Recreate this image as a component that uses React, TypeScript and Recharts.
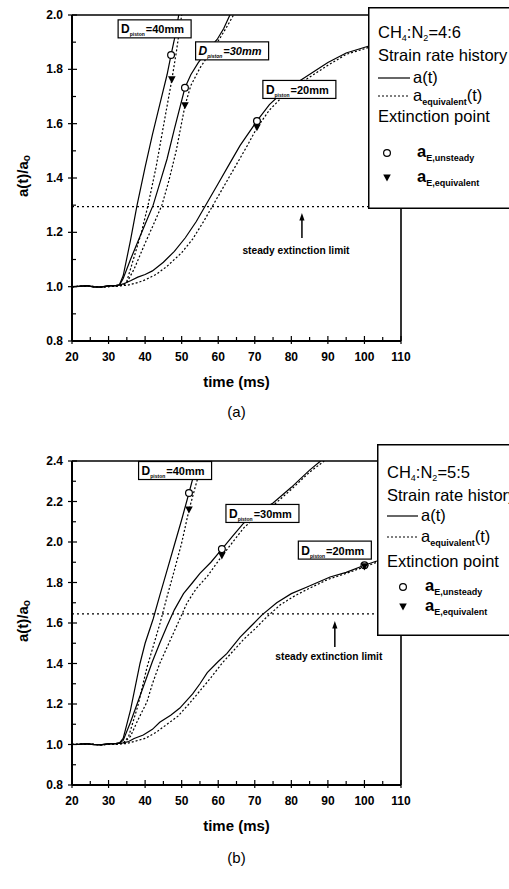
import React from 'react'
import { ComposedChart, Line, Scatter, XAxis, YAxis, ReferenceLine, ReferenceDot, Legend } from 'recharts'

type Pt = [number, number]

const FONT = '"Liberation Sans", Arial, Helvetica, sans-serif'

// every 5 ms / every 0.1 gets a tick; labels only on the major ones
const timeTicks = [20, 25, 30, 35, 40, 45, 50, 55, 60, 65, 70, 75, 80, 85, 90, 95, 100, 105, 110]
const ratioTicksA = [0.8, 0.9, 1.0, 1.1, 1.2, 1.3, 1.4, 1.5, 1.6, 1.7, 1.8, 1.9, 2.0]
const ratioTicksB = [0.8, 0.9, 1.0, 1.1, 1.2, 1.3, 1.4, 1.5, 1.6, 1.7, 1.8, 1.9, 2.0, 2.1, 2.2, 2.3, 2.4]

// (a) CH4:N2 = 4:6 -- strain rate history a(t)/a0 and the equivalent history
const histA40: Pt[] = [[20, 1.0], [22, 1.001], [24, 1.004], [26, 0.999], [28, 0.998], [30, 1.004], [32, 1.004], [33, 1.008], [34, 1.04], [36, 1.17], [37.8, 1.3], [40, 1.44], [42, 1.56], [44, 1.67], [46, 1.78], [47.1, 1.853], [48, 1.91], [49.2, 2.0]]
const eqA40: Pt[] = [[20, 1.0], [24, 1.002], [28, 0.999], [32, 1.002], [34, 1.006], [35, 1.02], [37, 1.11], [39, 1.2], [40.8, 1.3], [43, 1.44], [45, 1.59], [47.3, 1.761], [48.5, 1.86], [50, 2.0]]
const histA30: Pt[] = [[20, 1.0], [22, 1.002], [24, 1.003], [26, 0.999], [28, 0.999], [30, 1.003], [32, 1.004], [33, 1.006], [34, 1.03], [36, 1.1], [38, 1.165], [40, 1.23], [42.2, 1.3], [44, 1.38], [46, 1.47], [48, 1.58], [50.9, 1.732], [52.5, 1.78], [54.5, 1.824], [57, 1.87], [59.7, 1.91], [61.5, 1.95], [63.2, 2.0]]
const eqA30: Pt[] = [[20, 1.0], [24, 1.002], [28, 0.999], [32, 1.002], [34, 1.005], [35, 1.015], [37, 1.065], [40, 1.16], [42, 1.22], [44.6, 1.3], [46.5, 1.39], [48.5, 1.5], [50.9, 1.666], [52.5, 1.74], [55, 1.805], [58, 1.865], [60.5, 1.915], [62.5, 1.96], [64.2, 2.0]]
const histA20: Pt[] = [[20, 1.0], [22, 1.001], [24, 1.004], [26, 0.999], [28, 0.998], [30, 1.003], [32, 1.004], [33, 1.006], [34, 1.01], [36, 1.022], [38, 1.035], [40, 1.045], [42, 1.058], [45, 1.09], [48, 1.13], [51, 1.18], [54, 1.24], [57, 1.31], [60, 1.38], [63, 1.45], [66, 1.52], [70.6, 1.61], [74, 1.67], [78, 1.72], [82, 1.755], [86, 1.79], [90, 1.825], [95, 1.86], [101, 1.885]]
const eqA20: Pt[] = [[20, 1.0], [24, 1.002], [28, 0.999], [32, 1.002], [35, 1.005], [38, 1.015], [40, 1.025], [43, 1.045], [46, 1.075], [50, 1.125], [53, 1.175], [56, 1.24], [59, 1.31], [62, 1.38], [65, 1.45], [68, 1.52], [70.6, 1.585], [74, 1.65], [78, 1.705], [82, 1.745], [86, 1.78], [90, 1.815], [95, 1.855], [101, 1.88]]
const unsteadyA: Pt[] = [[47.1, 1.853], [50.9, 1.732], [70.6, 1.61]]
const equivA: Pt[] = [[47.3, 1.761], [50.9, 1.666], [70.6, 1.585]]
const limitA = 1.295

// (b) CH4:N2 = 5:5
const histB40: Pt[] = [[20, 1.0], [22, 1.002], [24, 1.004], [26, 1.0], [28, 0.998], [30, 1.004], [32, 1.004], [33, 1.008], [34, 1.03], [36, 1.17], [38.6, 1.4], [40, 1.5], [42.2, 1.62], [44, 1.735], [46, 1.86], [48, 1.985], [50, 2.11], [52, 2.242], [54.3, 2.4]]
const eqB40: Pt[] = [[20, 1.0], [24, 1.002], [28, 0.999], [32, 1.002], [34, 1.006], [35.5, 1.04], [38, 1.19], [40.5, 1.38], [44.1, 1.6], [46, 1.73], [48, 1.86], [50, 1.995], [52, 2.158], [54, 2.29], [55.7, 2.4]]
const histB30: Pt[] = [[20, 1.0], [22, 1.001], [24, 1.003], [26, 0.999], [28, 0.999], [30, 1.003], [32, 1.004], [33, 1.008], [34, 1.02], [36, 1.11], [38, 1.21], [40, 1.31], [42, 1.41], [44, 1.5], [46, 1.585], [48, 1.665], [50.5, 1.745], [53, 1.8], [55, 1.845], [58, 1.9], [61, 1.965], [64, 2.03], [67, 2.094], [71, 2.15], [75, 2.193], [80, 2.27], [85, 2.355], [88, 2.4]]
const eqB30: Pt[] = [[20, 1.0], [24, 1.002], [28, 0.999], [32, 1.002], [34, 1.005], [36, 1.04], [38, 1.12], [40.5, 1.21], [42, 1.3], [44, 1.4], [46, 1.48], [48, 1.56], [49.5, 1.62], [51.5, 1.7], [54, 1.77], [57, 1.83], [61, 1.931], [64, 2.0], [67, 2.07], [71, 2.135], [75, 2.18], [80, 2.26], [85, 2.345], [89, 2.4]]
const histB20: Pt[] = [[20, 1.0], [22, 1.001], [24, 1.004], [26, 0.999], [28, 0.998], [30, 1.003], [32, 1.004], [34, 1.008], [35.5, 1.015], [37, 1.03], [39.5, 1.047], [42, 1.075], [44, 1.11], [47, 1.145], [49.5, 1.18], [53, 1.25], [55, 1.3], [57, 1.355], [60, 1.41], [62.4, 1.45], [66, 1.53], [69, 1.585], [72, 1.64], [76, 1.7], [80, 1.745], [84.3, 1.778], [90.6, 1.827], [95, 1.85], [100, 1.885], [103.4, 1.906]]
const eqB20: Pt[] = [[20, 1.0], [24, 1.002], [28, 0.999], [32, 1.002], [35, 1.005], [37, 1.015], [40, 1.03], [43, 1.06], [46, 1.1], [49, 1.14], [52, 1.2], [55, 1.265], [58, 1.33], [61, 1.4], [64, 1.46], [67, 1.52], [70, 1.57], [73, 1.625], [77, 1.69], [81, 1.735], [85, 1.772], [90, 1.815], [95, 1.845], [100, 1.877], [103.4, 1.9]]
const unsteadyB: Pt[] = [[52, 2.242], [61, 1.965], [100, 1.885]]
const equivB: Pt[] = [[52, 2.158], [61, 1.931], [100, 1.877]]
const limitB = 1.645

const rows = (pts: Pt[]) => pts.map(([t, a]) => ({ t, a }))

const tickFont = { fill: '#000', fontSize: 12, fontWeight: 700, fontFamily: FONT }
const axisStroke = { stroke: '#000', strokeWidth: 2 }

// x/y arrive at the axis line because tickSize and tickMargin are 0
const TimeTick = ({ x, y, payload }: any) => {
  const major = payload.value % 10 === 0
  return (
    <g>
      <line x1={x} x2={x} y1={y - (major ? 5 : 4)} y2={y + (major ? 3 : 0)} stroke="#000" strokeWidth={1.2} />
      {major && (
        <text x={x} y={y + 16} textAnchor="middle" dominantBaseline="central" {...tickFont}>
          {payload.value}
        </text>
      )}
    </g>
  )
}

const RatioTick = ({ x, y, payload }: any) => {
  const major = Math.round(payload.value * 10) % 2 === 0
  return (
    <g>
      <line x1={x - (major ? 4 : 0)} x2={x + (major ? 5 : 4)} y1={y} y2={y} stroke="#000" strokeWidth={1.2} />
      {major && (
        <text x={x - 9} y={y} textAnchor="end" dominantBaseline="central" {...tickFont}>
          {payload.value.toFixed(1)}
        </text>
      )}
    </g>
  )
}

const OpenCircle = (p: any) => (
  <circle cx={p.cx} cy={p.cy} r={3.4} fill="#fff" stroke="#000" strokeWidth={1.2} />
)
const DownTriangle = (p: any) => (
  <path d={`M${p.cx - 3.8},${p.cy - 3.6} L${p.cx + 3.8},${p.cy - 3.6} L${p.cx},${p.cy + 3.6} Z`} fill="#000" />
)

function PistonTag({ cx, cy, size, italic }: { cx: number; cy: number; size: string; italic?: boolean }) {
  const w = 73
  const h = 18
  return (
    <g>
      <rect x={cx - w / 2} y={cy - h / 2} width={w} height={h} fill="#fff" stroke="#000" strokeWidth={1.2} />
      <text x={cx - w / 2 + 3} y={cy + 4.5} fontFamily={FONT} fontSize={12} fontWeight={700}
        fontStyle={italic ? 'italic' : 'normal'} fill="#000">
        D<tspan fontSize={5} dy={3}>piston</tspan>
        <tspan fontSize={11} dy={-3} dx={1}>={size}</tspan>
      </text>
    </g>
  )
}

function LimitArrow({ cx, cy, len, textDx, textDy }: { cx: number; cy: number; len: number; textDx: number; textDy: number }) {
  return (
    <g>
      <line x1={cx} y1={cy + 5} x2={cx} y2={cy + len} stroke="#000" strokeWidth={1.5} />
      <path d={`M${cx},${cy} L${cx - 2.6},${cy + 7.5} L${cx + 2.6},${cy + 7.5} Z`} fill="#000" />
      <text x={cx + textDx} y={cy + textDy} textAnchor="middle" dominantBaseline="central"
        fontFamily={FONT} fontSize={10.2} fontWeight={700} fill="#000">
        steady extinction limit
      </text>
    </g>
  )
}

type KeyLayout = {
  h: number
  ratioY: number
  strainY: number
  solidY: number
  dashY: number
  extY: number
  circY: number
  triY: number
  lineEnd: number
  symX: number
  textX: number
}

function KeyBox({ ratio, k }: { ratio: string; k: KeyLayout }) {
  const big = { fontFamily: FONT, fontSize: 16.5, fill: '#000' }
  const sub = { fontSize: 9, fontWeight: 700 }
  return (
    <svg width={160} height={k.h} style={{ display: 'block' }}>
      <rect x={0.75} y={0.75} width={158.5} height={k.h - 1.5} fill="#fff" stroke="#000" strokeWidth={1.5} />
      <text x={10} y={k.ratioY} {...big}>
        CH<tspan fontSize={9} dy={3}>4</tspan><tspan dy={-3}>:N</tspan>
        <tspan fontSize={9} dy={3}>2</tspan><tspan dy={-3}>={ratio}</tspan>
      </text>
      <text x={10} y={k.strainY} {...big}>Strain rate history</text>
      <line x1={10} x2={k.lineEnd} y1={k.solidY} y2={k.solidY} stroke="#000" strokeWidth={1.2} />
      <text x={k.lineEnd + 3} y={k.solidY + 5} {...big}>a(t)</text>
      <line x1={10} x2={k.lineEnd} y1={k.dashY} y2={k.dashY} stroke="#000" strokeWidth={1.2} strokeDasharray="2 2" />
      <text x={k.lineEnd + 3} y={k.dashY + 5} {...big}>
        a<tspan {...sub} dy={4}>equivalent</tspan><tspan dy={-4}>(t)</tspan>
      </text>
      <text x={10} y={k.extY} {...big}>Extinction point</text>
      <OpenCircle cx={k.symX} cy={k.circY} />
      <text x={k.textX} y={k.circY + 4} {...big} fontWeight={700}>
        a<tspan {...sub} dy={4}>E,unsteady</tspan>
      </text>
      <DownTriangle cx={k.symX} cy={k.triY} />
      <text x={k.textX} y={k.triY + 4} {...big} fontWeight={700}>
        a<tspan {...sub} dy={4}>E,equivalent</tspan>
      </text>
    </svg>
  )
}

type Tag = { t: number; a: number; size: string; italic?: boolean }

type PanelProps = {
  top: number
  height: number
  marginTop: number
  marginBottom: number
  yMax: number
  yTicks: number[]
  hist: Pt[][]
  eq: Pt[][]
  unsteady: Pt[]
  equiv: Pt[]
  limit: number
  arrow: { t: number; a: number; len: number; textDx: number; textDy: number }
  tags: Tag[]
  ratio: string
  keyPos: { left: number; top: number }
  keyLayout: KeyLayout
  caption: string
  captionY: number
}

function Panel(p: PanelProps) {
  return (
    <>
      <div style={{ position: 'absolute', left: 0, top: p.top, width: 509, height: p.height }}>
        <ComposedChart width={509} height={p.height}
          margin={{ top: p.marginTop, right: 108, bottom: p.marginBottom, left: 8 }}>
          <XAxis dataKey="t" type="number" domain={[20, 110]} ticks={timeTicks} interval={0}
            height={50} tickSize={0} tickMargin={0} axisLine={axisStroke} tickLine={false} tick={TimeTick}
            allowDataOverflow
            label={{
              content: ({ viewBox }: any) => (
                <text x={viewBox.x + viewBox.width / 2} y={viewBox.y + 40} textAnchor="middle"
                  dominantBaseline="central" fontFamily={FONT} fontSize={15} fontWeight={700} fill="#000">
                  time (ms)
                </text>
              ),
            }}
          />
          <YAxis type="number" domain={[0.8, p.yMax]} ticks={p.yTicks} interval={0} width={64}
            tickSize={0} tickMargin={0} axisLine={axisStroke} tickLine={false} tick={RatioTick}
            allowDataOverflow
            label={{
              content: ({ viewBox }: any) => {
                const x = viewBox.x + 14
                const y = viewBox.y + viewBox.height / 2 - 2
                return (
                  <text x={x} y={y} transform={`rotate(-90 ${x} ${y})`} textAnchor="middle"
                    dominantBaseline="central" fontFamily={FONT} fontSize={15} fontWeight={700} fill="#000">
                    a(t)/a<tspan fontSize={10} dy={4}>o</tspan>
                  </text>
                )
              },
            }}
          />

          <ReferenceLine y={p.yMax} stroke="#000" strokeWidth={1.6} />
          <ReferenceLine x={110} stroke="#000" strokeWidth={1.6} />
          <ReferenceLine y={p.limit} stroke="#000" strokeWidth={1.2} strokeDasharray="2 3" />

          {p.hist.map((s, i) => (
            <Line key={`hist-${i}`} data={rows(s)} dataKey="a" type="linear" stroke="#000"
              strokeWidth={1.2} dot={false} isAnimationActive={false} />
          ))}
          {p.eq.map((s, i) => (
            <Line key={`eq-${i}`} data={rows(s)} dataKey="a" type="linear" stroke="#000"
              strokeWidth={1.2} strokeDasharray="2 2" dot={false} isAnimationActive={false} />
          ))}

          {p.tags.map((tg) => (
            <ReferenceDot key={tg.size} x={tg.t} y={tg.a} r={1} ifOverflow="visible"
              shape={(sp: any) => <PistonTag cx={sp.cx} cy={sp.cy} size={tg.size} italic={tg.italic} />} />
          ))}
          <ReferenceDot x={p.arrow.t} y={p.arrow.a} r={1} ifOverflow="visible"
            shape={(sp: any) => (
              <LimitArrow cx={sp.cx} cy={sp.cy} len={p.arrow.len} textDx={p.arrow.textDx} textDy={p.arrow.textDy} />
            )} />

          <Scatter data={rows(p.unsteady)} dataKey="a" shape={OpenCircle} isAnimationActive={false} />
          <Scatter data={rows(p.equiv)} dataKey="a" shape={DownTriangle} isAnimationActive={false} />

          <Legend layout="vertical" align="center" verticalAlign="middle"
            wrapperStyle={{ left: p.keyPos.left, top: p.keyPos.top, width: 160, height: p.keyLayout.h }}
            content={() => <KeyBox ratio={p.ratio} k={p.keyLayout} />} />
        </ComposedChart>
      </div>
      <div style={{
        position: 'absolute', left: 0, top: p.captionY - 9, width: 473, textAlign: 'center',
        fontFamily: FONT, fontSize: 15, lineHeight: '18px', color: '#000',
      }}>
        {p.caption}
      </div>
    </>
  )
}

export default function App() {
  return (
    <div style={{ position: 'absolute', left: 0, top: 0, width: 509, height: 889, overflow: 'hidden', background: '#fff' }}>
      <Panel
        top={0} height={430} marginTop={15} marginBottom={39}
        yMax={2.0} yTicks={ratioTicksA}
        hist={[histA40, histA30, histA20]} eq={[eqA40, eqA30, eqA20]}
        unsteady={unsteadyA} equiv={equivA} limit={limitA}
        arrow={{ t: 82.9, a: 1.271, len: 25, textDx: -6, textDy: 37 }}
        tags={[
          { t: 42.6, a: 1.949, size: '40mm' },
          { t: 63.8, a: 1.868, size: '30mm', italic: true },
          { t: 82.2, a: 1.726, size: '20mm' },
        ]}
        ratio="4:6"
        keyPos={{ left: 368, top: 7 }}
        keyLayout={{ h: 202, ratioY: 30.5, strainY: 53.5, solidY: 71, dashY: 89, extY: 115, circY: 146, triY: 171, lineEnd: 42, symX: 19, textX: 49 }}
        caption="(a)" captionY={412}
      />
      <Panel
        top={430} height={459} marginTop={31} marginBottom={54}
        yMax={2.4} yTicks={ratioTicksB}
        hist={[histB40, histB30, histB20]} eq={[eqB40, eqB30, eqB20]}
        unsteady={unsteadyB} equiv={equivB} limit={limitB}
        arrow={{ t: 91.9, a: 1.61, len: 26, textDx: -6, textDy: 36 }}
        tags={[
          { t: 48.2, a: 2.353, size: '40mm' },
          { t: 72.1, a: 2.141, size: '30mm' },
          { t: 91.9, a: 1.96, size: '20mm' },
        ]}
        ratio="5:5"
        keyPos={{ left: 377, top: 14 }}
        keyLayout={{ h: 192, ratioY: 34, strainY: 57, solidY: 72, dashY: 93, extY: 123, circY: 143, triY: 163, lineEnd: 41, symX: 26, textX: 48 }}
        caption="(b)" captionY={858}
      />
    </div>
  )
}
